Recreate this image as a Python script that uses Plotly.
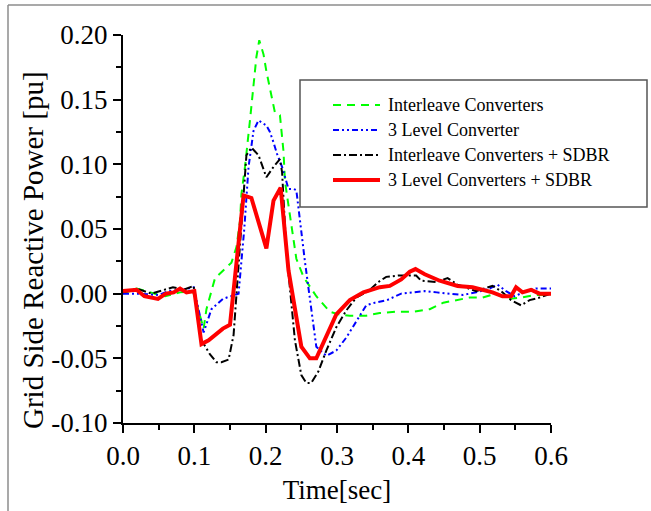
import plotly.graph_objects as go

# ---- data ----------------------------------------------------------------
series_names = [
    "Interleave Converters",
    "3 Level Converter",
    "Interleave Converters + SDBR",
    "3 Level Converters + SDBR",
]

t_interleave = [0.000, 0.019, 0.045, 0.059, 0.080, 0.098, 0.113, 0.117, 0.129, 0.145,
                0.152, 0.159, 0.164, 0.166, 0.171, 0.178, 0.183, 0.187, 0.191, 0.197,
                0.201, 0.208, 0.213, 0.220, 0.225, 0.227, 0.232, 0.239, 0.243, 0.253,
                0.271, 0.290, 0.302, 0.318, 0.341, 0.360, 0.383, 0.407, 0.430, 0.449,
                0.467, 0.486, 0.504, 0.523, 0.539, 0.558, 0.579, 0.600]
q_interleave = [0.000, 0.004, 0.000, -0.002, 0.001, 0.002, -0.027, -0.012, 0.012, 0.020,
                0.024, 0.036, 0.056, 0.077, 0.098, 0.134, 0.159, 0.183, 0.196, 0.185,
                0.172, 0.152, 0.140, 0.138, 0.110, 0.087, 0.067, 0.043, 0.027, 0.013,
                -0.002, -0.014, -0.016, -0.017, -0.017, -0.015, -0.014, -0.014, -0.012, -0.007,
                -0.005, -0.003, -0.003, 0.000, -0.004, -0.003, -0.001, -0.001]

t_3level = [0.000, 0.019, 0.050, 0.064, 0.085, 0.099, 0.113, 0.124, 0.140, 0.150,
            0.162, 0.170, 0.176, 0.183, 0.190, 0.201, 0.206, 0.211, 0.216, 0.223,
            0.232, 0.239, 0.243, 0.255, 0.264, 0.269, 0.271, 0.285, 0.299, 0.313,
            0.327, 0.341, 0.353, 0.370, 0.390, 0.411, 0.423, 0.440, 0.458, 0.476,
            0.495, 0.514, 0.525, 0.537, 0.549, 0.565, 0.579, 0.600]
q_3level = [0.000, 0.000, -0.001, 0.002, 0.003, 0.005, -0.030, -0.012, -0.004, -0.002,
            0.000, 0.050, 0.098, 0.126, 0.134, 0.130, 0.125, 0.117, 0.108, 0.098,
            0.081, 0.081, 0.080, 0.025, -0.011, -0.033, -0.041, -0.048, -0.044, -0.034,
            -0.021, -0.009, -0.007, -0.005, 0.000, 0.001, 0.002, 0.001, 0.000, -0.001,
            0.001, 0.004, 0.007, 0.002, -0.002, 0.002, 0.004, 0.004]

t_interleave_sdbr = [0.000, 0.019, 0.040, 0.070, 0.085, 0.099, 0.110, 0.122, 0.131, 0.138,
                     0.148, 0.155, 0.173, 0.180, 0.190, 0.201, 0.211, 0.220, 0.223, 0.229,
                     0.241, 0.250, 0.257, 0.264, 0.274, 0.285, 0.299, 0.313, 0.327, 0.344,
                     0.358, 0.369, 0.386, 0.411, 0.418, 0.439, 0.455, 0.469, 0.495, 0.518,
                     0.530, 0.544, 0.558, 0.570, 0.584, 0.600]
q_interleave_sdbr = [0.001, 0.004, 0.000, 0.005, 0.003, 0.006, -0.036, -0.047, -0.053, -0.053,
                     -0.051, -0.032, 0.107, 0.113, 0.107, 0.090, 0.098, 0.104, 0.094, 0.033,
                     -0.036, -0.063, -0.069, -0.069, -0.060, -0.044, -0.026, -0.013, -0.003, 0.002,
                     0.009, 0.013, 0.014, 0.014, 0.010, 0.009, 0.012, 0.007, 0.002, 0.006,
                     0.002, -0.005, -0.009, -0.005, -0.003, 0.000]

t_3level_sdbr = [0.000, 0.019, 0.030, 0.049, 0.060, 0.071, 0.080, 0.089, 0.100, 0.110,
                 0.120, 0.140, 0.150, 0.169, 0.180, 0.201, 0.211, 0.221, 0.232, 0.250,
                 0.262, 0.271, 0.299, 0.318, 0.337, 0.360, 0.374, 0.390, 0.402, 0.410,
                 0.423, 0.444, 0.469, 0.490, 0.518, 0.532, 0.544, 0.551, 0.560, 0.572,
                 0.584, 0.600]
q_3level_sdbr = [0.002, 0.003, -0.002, -0.004, 0.000, 0.001, 0.004, 0.001, 0.002, -0.039,
                 -0.036, -0.027, -0.024, 0.076, 0.074, 0.035, 0.072, 0.082, 0.018, -0.041,
                 -0.050, -0.050, -0.016, -0.005, 0.001, 0.005, 0.006, 0.011, 0.017, 0.019,
                 0.015, 0.010, 0.006, 0.005, 0.001, -0.002, -0.002, 0.005, 0.001, 0.003,
                 0.000, 0.000]

x_ticks = [0.0, 0.1, 0.2, 0.3, 0.4, 0.5, 0.6]
y_ticks = [-0.10, -0.05, 0.00, 0.05, 0.10, 0.15, 0.20]

# ---- styling -------------------------------------------------------------
FONT = "Liberation Serif, Times New Roman, serif"
W, H = 651, 511
ML, MR, MT, MB = 123, 100, 35, 88
PW, PH = W - ML - MR, H - MT - MB

styles = [
    dict(color="#00ff00", width=2, dash="8px,6px"),
    dict(color="#0000ff", width=2, dash="6px,3px,2px,3px,2px,3px"),
    dict(color="#000000", width=2, dash="8px,3px,2px,3px"),
    dict(color="#ff0000", width=4, dash="solid"),
]
xs = [t_interleave, t_3level, t_interleave_sdbr, t_3level_sdbr]
ys = [q_interleave, q_3level, q_interleave_sdbr, q_3level_sdbr]


def px_x(px):
    return (px - ML) / PW


def px_y(py):
    return (H - MB - py) / PH


fig = go.Figure()
for name, x, y, st in zip(series_names, xs, ys, styles):
    fig.add_trace(go.Scatter(x=x, y=y, mode="lines", name=name,
                             line=st, showlegend=False))

# legend frame, sample lines and labels
shapes = [
    dict(type="rect", xref="paper", yref="paper",
         x0=px_x(300), x1=px_x(647), y0=px_y(207), y1=px_y(80),
         line=dict(color="#555555", width=1.5), fillcolor="rgba(0,0,0,0)"),
    # outer frame edges (top and left)
    dict(type="line", xref="paper", yref="paper",
         x0=px_x(8), x1=px_x(651), y0=px_y(5), y1=px_y(5),
         line=dict(color="#8c8c8c", width=1.5)),
    dict(type="line", xref="paper", yref="paper",
         x0=px_x(8), x1=px_x(8), y0=px_y(5), y1=px_y(511),
         line=dict(color="#8c8c8c", width=1.5)),
]
annotations = []
row_y = [105, 130, 155, 180]
for name, st, ry in zip(series_names, styles, row_y):
    shapes.append(dict(type="line", xref="paper", yref="paper",
                       x0=px_x(333), x1=px_x(380), y0=px_y(ry), y1=px_y(ry),
                       line=dict(color=st["color"], width=st["width"], dash=st["dash"])))
    annotations.append(dict(xref="paper", yref="paper", x=px_x(386), y=px_y(ry),
                            text=name, showarrow=False, xanchor="left", yanchor="middle",
                            font=dict(family=FONT, size=18, color="black")))

# y-axis title
annotations.append(dict(xref="paper", yref="paper", x=px_x(33), y=px_y(250),
                        text="Grid Side Reactive Power [pu]", showarrow=False,
                        textangle=-90, xanchor="center", yanchor="middle",
                        font=dict(family=FONT, size=29, color="black")))

axis_common = dict(
    showline=True, linecolor="black", linewidth=2, mirror=False,
    showgrid=False, zeroline=False,
    ticks="outside", ticklen=8, tickwidth=2, tickcolor="black",
    tickfont=dict(family=FONT, size=27, color="black"),
)

fig.update_layout(
    width=W, height=H,
    margin=dict(l=ML, r=MR, t=MT, b=MB, pad=0),
    paper_bgcolor="white", plot_bgcolor="white",
    font=dict(family=FONT, color="black"),
    shapes=shapes, annotations=annotations,
    xaxis=dict(range=[0, 0.6], tickvals=x_ticks,
               ticktext=[f"{v:.1f}" for v in x_ticks],
               minor=dict(dtick=0.05, ticks="outside", ticklen=5, tickwidth=2,
                          tickcolor="black"),
               title=dict(text="Time[sec]", font=dict(family=FONT, size=27),
                          standoff=10),
               ticklabelstandoff=0,
               **axis_common),
    yaxis=dict(range=[-0.10, 0.20], tickvals=y_ticks,
               ticktext=[f"{v:.2f}" for v in y_ticks],
               minor=dict(dtick=0.025, ticks="outside", ticklen=5, tickwidth=2,
                          tickcolor="black"),
               **axis_common),
)

fig.write_html("out.html")
